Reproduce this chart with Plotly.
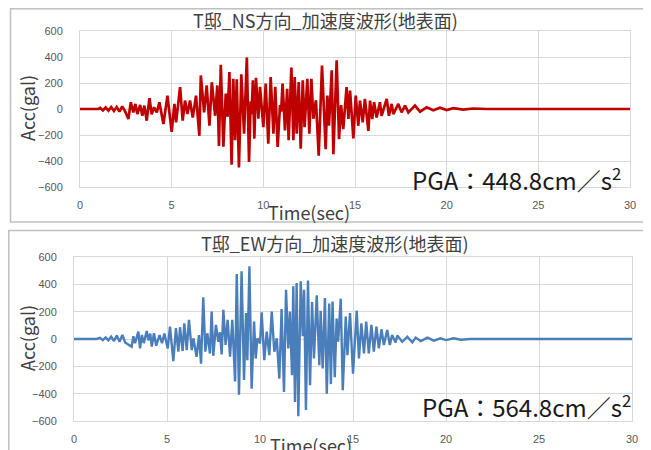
import plotly.graph_objects as go

# page body has an 8px margin; figure coordinates below are given in
# window pixels and converted accordingly
OFF = 8
FW, FH = 643, 442

# ---------------- data ----------------
ns_t = [0, 1.0, 1.1, 1.25, 1.4, 1.55, 1.7, 1.85, 2.0, 2.15, 2.3, 2.45,
        2.64, 2.77, 2.91, 3.02, 3.13, 3.28, 3.40, 3.51, 3.64, 3.79, 3.91, 4.04,
        4.19, 4.33, 4.55, 4.77, 5.0, 5.15, 5.24, 5.46, 5.6, 5.73, 5.86, 6.0,
        6.15, 6.33, 6.51, 6.59, 6.77, 6.91, 7.06, 7.19, 7.37, 7.49, 7.58, 7.68,
        7.82, 7.95, 8.05, 8.15, 8.27, 8.36, 8.46, 8.55, 8.67, 8.8, 8.95, 9.1,
        9.22, 9.31, 9.36, 9.43, 9.51, 9.6, 9.73, 9.82, 10.0, 10.13, 10.27, 10.4,
        10.55, 10.65, 10.78, 10.91, 10.97, 11.05, 11.18, 11.3, 11.38, 11.53, 11.64, 11.71,
        11.82, 11.93, 12.04, 12.15, 12.25, 12.4, 12.51, 12.62, 12.73, 12.87, 13.02, 13.2,
        13.4, 13.49, 13.58, 13.73, 13.82, 14.0, 14.13, 14.24, 14.36, 14.54, 14.64, 14.73,
        14.91, 15.04, 15.18, 15.27, 15.42, 15.54, 15.73, 15.82, 15.94, 16.04, 16.18, 16.36,
        16.45, 16.73, 16.85, 17.0, 17.09, 17.36, 17.54, 17.73, 17.91, 18.27, 18.55, 18.91,
        19.27, 19.64, 20.0, 20.36, 20.9, 21.45, 22.2, 30.0]
ns_acc = [0, 0, 8, -10, 12, -12, 15, -15, 15, -20, 20, -15,
          -77, 52, -26, 39, -39, 31, -52, 26, -90, 83, -40, 13,
          -26, 52, -116, 103, -175, 39, -103, 168, -90, 65, -39, 65,
          -65, 103, -206, 258, -26, 181, -129, 206, -52, 181, -285, 340,
          -290, 118, -60, 285, -428, 233, -240, 228, -449, 267, -190, 395,
          -408, 60, -40, 220, -228, 240, -75, 170, -140, 195, -267, 246,
          -190, 170, -292, 30, -20, 195, -164, 156, -240, 318, -240, 246,
          -190, 208, -305, 220, -140, 233, -190, 233, -75, 67, -360, 335,
          -310, 103, -129, 297, -348, 375, -232, 30, -155, 168, -77, 142,
          -227, 103, -129, 65, -103, 77, -168, 65, -77, 52, -65, 52,
          -52, 77, -52, 39, -39, 39, -26, 26, -26, 26, -20, 13,
          -10, 10, -8, 6, -5, 4, 0, 0]

ew_t = [0, 1.22, 1.4, 1.55, 1.7, 1.85, 2.0, 2.15, 2.3, 2.45, 2.6, 2.75,
        3.1, 3.19, 3.28, 3.46, 3.55, 3.65, 3.75, 3.91, 4.0, 4.1, 4.18, 4.3,
        4.42, 4.6, 4.73, 4.86, 5.04, 5.16, 5.34, 5.48, 5.61, 5.7, 5.84, 5.93,
        6.06, 6.18, 6.33, 6.42, 6.59, 6.72, 6.83, 6.95, 7.06, 7.17, 7.31, 7.4,
        7.49, 7.63, 7.76, 7.85, 7.94, 8.03, 8.15, 8.26, 8.39, 8.51, 8.66, 8.75,
        8.87, 9.01, 9.14, 9.25, 9.32, 9.43, 9.55, 9.68, 9.77, 9.86, 10.0, 10.09,
        10.23, 10.36, 10.5, 10.63, 10.77, 10.9, 11.04, 11.16, 11.29, 11.4, 11.52, 11.61,
        11.72, 11.79, 11.88, 11.97, 12.06, 12.19, 12.3, 12.37, 12.47, 12.58, 12.69, 12.8,
        12.9, 13.05, 13.19, 13.26, 13.37, 13.49, 13.59, 13.72, 13.81, 13.9, 14.02, 14.12,
        14.2, 14.34, 14.45, 14.61, 14.7, 14.84, 15.0, 15.2, 15.32, 15.45, 15.59, 15.71,
        15.85, 15.99, 16.12, 16.26, 16.39, 16.53, 16.66, 16.84, 16.98, 17.1, 17.29, 17.38,
        17.65, 17.92, 18.19, 18.37, 18.64, 19.0, 19.35, 19.7, 20.0, 20.4, 20.8, 21.3, 30.0]
ew_acc = [0, 0, 8, -8, 12, -10, 18, -15, 25, -20, 30, -25,
          -56, 20, -30, 54, -69, 30, -30, 59, -10, 40, -56, 42,
          -49, 29, -30, 40, -69, 90, -162, 79, -93, 86, -88, 115,
          -81, 140, -81, 5, -130, 29, -180, 305, -93, 42, -106, 200,
          -123, 103, -20, 49, -113, 213, -44, 140, -130, 140, -310, 476,
          -407, 495, -300, 190, -155, 532, -363, 128, -143, 5, -32, 196,
          -155, 54, -118, 200, -93, 5, -290, 220, -388, 360, -69, 200,
          -265, 385, -460, 410, -565, 422, 20, 360, -520, 427, -339, 270,
          -143, 320, -192, 206, -216, 300, -400, 260, -330, 275, -280, 150,
          -20, 295, -375, 165, -118, 190, -253, 208, -142, 115, -105, 127,
          -105, 103, -93, 91, -69, 71, -44, 66, -44, 29, -25, 25,
          -20, 17, -25, 10, -15, 10, -12, 5, -8, 5, -5, 0, 0]

x_ticks = [0, 5, 10, 15, 20, 25, 30]
y_ticks = [-600, -400, -200, 0, 200, 400, 600]

titles = ["T邸_NS方向_加速度波形(地表面)", "T邸_EW方向_加速度波形(地表面)"]
pga_texts = ["PGA：448.8cm／s<sup>2</sup>", "PGA：564.8cm／s<sup>2</sup>"]
x_title = "Time(sec)"
y_title = "Acc(gal)"

# ---------------- helpers (window pixels -> paper fractions) ----------------
def px(x):
    return (x - OFF) / FW

def py(y):
    return 1 - (y - OFF) / FH

GRID = "#d9d9d9"
TICKFONT = dict(family="Liberation Sans, Arial, sans-serif", size=11, color="#595959")
CJK = "Noto Sans CJK JP, Noto Sans, sans-serif"

fig = go.Figure()
fig.add_trace(go.Scatter(x=ns_t, y=ns_acc, mode="lines", xaxis="x", yaxis="y",
                         line=dict(color="#c00000", width=2.7), showlegend=False))
fig.add_trace(go.Scatter(x=ew_t, y=ew_acc, mode="lines", xaxis="x2", yaxis="y2",
                         line=dict(color="#4a7ebb", width=2.4), showlegend=False))

def xaxis(dom):
    return dict(domain=dom, range=[0, 30], tickvals=x_ticks, showgrid=True,
                gridcolor=GRID, gridwidth=1, showline=True, linecolor=GRID,
                linewidth=1, mirror=True, zeroline=False, tickfont=TICKFONT,
                ticks="", ticklabelstandoff=8, fixedrange=True, automargin=False)

def yaxis(dom):
    return dict(domain=dom, range=[-600, 600], tickvals=y_ticks, showgrid=True,
                gridcolor=GRID, gridwidth=1, showline=True, linecolor=GRID,
                linewidth=1, mirror=True, zeroline=False, tickfont=TICKFONT,
                ticks="", ticklabelstandoff=14, fixedrange=True, automargin=False)

fig.update_layout(
    width=FW, height=FH, autosize=False,
    margin=dict(l=0, r=0, t=0, b=0, pad=0, autoexpand=False),
    paper_bgcolor="white", plot_bgcolor="white",
    xaxis=dict(xaxis([px(80), px(630)]), anchor="y"),
    yaxis=dict(yaxis([py(187), py(31)]), anchor="x"),
    xaxis2=dict(xaxis([px(74), px(632)]), anchor="y2"),
    yaxis2=dict(yaxis([py(421), py(257)]), anchor="x2"),
)

# outer panel boxes
fig.add_shape(type="rect", xref="paper", yref="paper",
              x0=px(10.5), x1=px(648), y0=py(222), y1=py(8.8),
              line=dict(color="#c0c0c0", width=1.5), layer="below")
fig.add_shape(type="rect", xref="paper", yref="paper",
              x0=px(8.8), x1=px(648), y0=py(470), y1=py(230.5),
              line=dict(color="#c0c0c0", width=1.5), layer="below")

ann = []
# titles
ann.append(dict(text=titles[0], x=px(325), y=py(20), font=dict(family=CJK, size=18, color="#404040")))
ann.append(dict(text=titles[1], x=px(334), y=py(243), font=dict(family=CJK, size=18, color="#404040")))
# axis titles
ann.append(dict(text=x_title, x=px(309), y=py(212), font=dict(family=CJK, size=18, color="#404040")))
ann.append(dict(text=x_title, x=px(311), y=py(445), font=dict(family=CJK, size=18, color="#404040")))
ann.append(dict(text=y_title, x=px(27), y=py(108), textangle=-90, font=dict(family=CJK, size=18, color="#404040")))
ann.append(dict(text=y_title, x=px(27), y=py(338), textangle=-90, font=dict(family=CJK, size=18, color="#404040")))
# PGA
ann.append(dict(text=pga_texts[0], x=px(516), y=py(179), font=dict(family=CJK, size=24, color="#1a1a1a")))
ann.append(dict(text=pga_texts[1], x=px(526), y=py(406), font=dict(family=CJK, size=24, color="#1a1a1a")))

for a in ann:
    fig.add_annotation(xref="paper", yref="paper", showarrow=False,
                       xanchor="center", yanchor="middle", **a)

fig.write_html("out.html")
